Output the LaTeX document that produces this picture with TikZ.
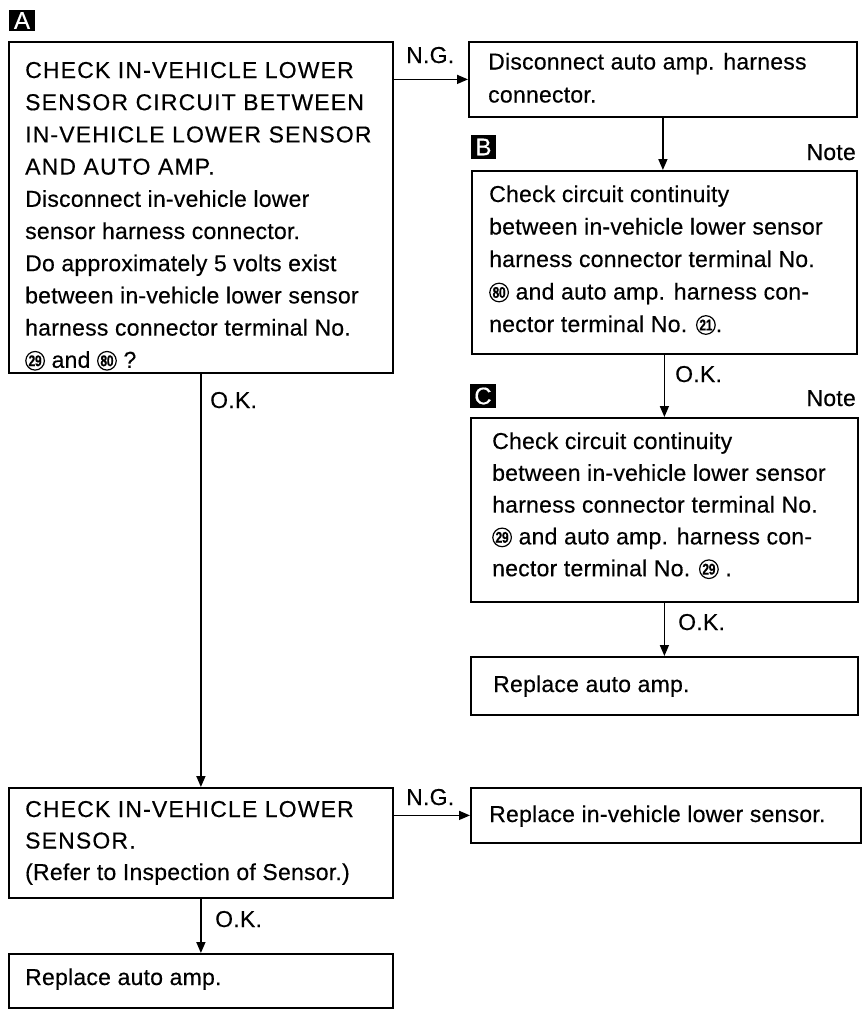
\documentclass[tikz,border=0pt]{standalone}
\usepackage{fontspec}
\setmainfont{Liberation Sans}[LetterSpace=1,FakeBold=0.4]
\usetikzlibrary{arrows.meta}
\newcommand\cnum[2]{\tikz[baseline=-7pt,x=1pt,y=1pt]{\draw[line width=1.2pt] (0,0) circle[radius=9.3pt]; \node[inner sep=0pt,anchor=center,font=\fontsize{15.5}{15.5}\selectfont\bfseries\addfontfeature{LetterSpace=-3}] (#2) at (0,0) {\scalebox{0.78}[1]{#1}};}}
\newcommand\para[2]{\parbox[t]{420pt}{\fontsize{23}{#1}\selectfont\raggedright #2}}
\newcommand\capsline[1]{{\addfontfeature{LetterSpace=5}#1}}
\tikzset{
  box/.style={draw,line width=1.8pt,anchor=north west,inner sep=0pt},
  txt/.style={anchor=base west,inner sep=0pt},
  tag/.style={anchor=base west,inner sep=0pt,font=\fontsize{23}{23}\selectfont},
  lbl/.style={fill=black,text=white,inner sep=0pt,font=\fontsize{24}{24}\selectfont},
  arr/.style={line width=1.6pt,-{Triangle[length=11pt,width=9pt]}}
}
\begin{document}
\begin{tikzpicture}[x=1pt,y=-1pt]
\useasboundingbox (0,0) rectangle (865,1009);
% labels
\node[lbl,minimum width=26pt,minimum height=21pt] (LA) at (22,20.5) {A};
\node[lbl,minimum width=25pt,minimum height=24pt] (LB) at (483.5,147) {B};
\node[lbl,minimum width=26pt,minimum height=24pt] (LC) at (483,396) {C};
% boxes
\node[box,minimum width=384pt,minimum height=331pt] (A) at (8,41) {};
\node[box,minimum width=388pt,minimum height=75pt] (D1) at (468,41) {};
\node[box,minimum width=385pt,minimum height=183pt] (BB) at (471,170) {};
\node[box,minimum width=387pt,minimum height=184pt] (CC) at (470,417) {};
\node[box,minimum width=387pt,minimum height=58pt] (R1) at (470,656) {};
\node[box,minimum width=384pt,minimum height=110pt] (D) at (8,787) {};
\node[box,minimum width=390pt,minimum height=55pt] (RS) at (470,787) {};
\node[box,minimum width=384pt,minimum height=54pt] (F) at (8,953) {};
% texts
\node[txt] (tA) at (25,78) {\para{32.2pt}{\capsline{CHECK IN-VEHICLE LOWER}\\
\capsline{SENSOR CIRCUIT BETWEEN}\\
\capsline{IN-VEHICLE LOWER SENSOR}\\
\capsline{AND AUTO AMP.}\\
Disconnect in-vehicle lower\\
sensor harness connector.\\
Do approximately 5 volts exist\\
between in-vehicle lower sensor\\
harness connector terminal No.\\
\cnum{29}{na} and \cnum{80}{nb} ?}};
\node[txt] (tD1) at (488,69.5) {\para{33pt}{Disconnect auto amp. harness\\
connector.}};
\node[txt] (tB) at (489,202) {\para{32.5pt}{Check circuit continuity\\
between in-vehicle lower sensor\\
harness connector terminal No.\\
\cnum{80}{nc} and auto amp. harness con-\\
nector terminal No. \cnum{21}{nd}.}};
\node[txt] (tC) at (492,449) {\para{31.8pt}{Check circuit continuity\\
between in-vehicle lower sensor\\
harness connector terminal No.\\
\cnum{29}{ne} and auto amp. harness con-\\
nector terminal No. \cnum{29}{nf} .}};
\node[txt] (tR1) at (493,692) {\para{32pt}{Replace auto amp.}};
\node[txt] (tD) at (25,817) {\para{31.5pt}{\capsline{CHECK IN-VEHICLE LOWER}\\
\capsline{SENSOR.}\\
(Refer to Inspection of Sensor.)}};
\node[txt] (tRS) at (489,822) {\para{32pt}{Replace in-vehicle lower sensor.}};
\node[txt] (tF) at (25,985) {\para{32pt}{Replace auto amp.}};
% notes and branch labels
\node[tag,anchor=base east] (NB) at (856,160) {Note};
\node[tag,anchor=base east] (NC) at (856,406) {Note};
\node[tag] (ng1) at (406,63) {N.G.};
\node[tag] (ng2) at (406,805) {N.G.};
\node[tag] (ok1) at (210,408) {O.K.};
\node[tag] (ok2) at (675,382) {O.K.};
\node[tag] (ok3) at (678,630) {O.K.};
\node[tag] (ok4) at (215,927) {O.K.};
% connectors
\draw[arr] (A.east |- D1.west) -- (D1.west);
\draw[arr] (D1.south) -- (D1.south |- BB.north);
\draw[arr] (BB.south) -- (BB.south |- CC.north);
\draw[arr] (CC.south) -- (CC.south |- R1.north);
\draw[arr] (A.south) -- (A.south |- D.north);
\draw[arr] (D.east |- RS.west) -- (RS.west);
\draw[arr] (D.south) -- (D.south |- F.north);
\end{tikzpicture}
\end{document}
